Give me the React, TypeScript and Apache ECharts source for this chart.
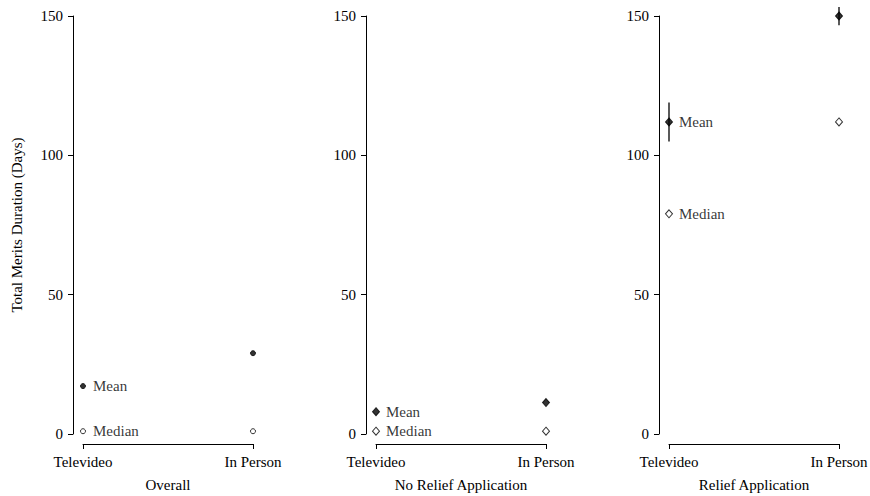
import React, { useEffect, useRef } from "react";
import * as echarts from "echarts";

// Categories and panel titles
const groups = ["Televideo", "In Person"];
const panelTitles = ["Overall", "No Relief Application", "Relief Application"];
const yTicks = [0, 50, 100, 150];

// Total merits duration in days
const overallMean = [17.2, 29.0];
const overallMedian = [1, 1];
const noReliefMean = [8.0, 11.3];
const noReliefMedian = [1, 1];
const reliefMean = [112, 150];
const reliefMedian = [79, 112];
const reliefMeanLow = [105, 146.7];
const reliefMeanHigh = [119, 153.2];

const FONT = "'Liberation Serif', 'Times New Roman', serif";
const FS = 15;

export default function App() {
  const ref = useRef<HTMLDivElement>(null);

  useEffect(() => {
    if (!ref.current) return;
    const chart = echarts.init(ref.current, null, { renderer: "svg" });

    const panels = [
      { mean: overallMean, median: overallMedian, symbol: "circle", size: [5, 5], gap: 7, err: null as null | { lo: number[]; hi: number[] } },
      { mean: noReliefMean, median: noReliefMedian, symbol: "diamond", size: [7, 8], gap: 6, err: null },
      { mean: reliefMean, median: reliefMedian, symbol: "diamond", size: [7, 8], gap: 6, err: { lo: reliefMeanLow, hi: reliefMeanHigh } },
    ];
    const gridLefts = [83, 376, 669];

    const grid = gridLefts.map((left) => ({
      left,
      top: 16,
      width: 170,
      height: 418,
      outerBoundsMode: "none",
      containLabel: false,
    }));

    const xAxis = panels.map((_, i) => ({
      type: "category",
      gridIndex: i,
      data: groups,
      boundaryGap: false,
      position: "bottom",
      offset: 10,
      name: panelTitles[i],
      nameLocation: "middle",
      nameGap: 33,
      nameTextStyle: { fontFamily: FONT, fontSize: FS, color: "#000" },
      axisLine: { show: true, onZero: false, lineStyle: { color: "#000", width: 1 } },
      axisTick: { show: true, length: 5, alignWithLabel: true, lineStyle: { color: "#000" } },
      axisLabel: { fontFamily: FONT, fontSize: FS, color: "#000", margin: 10, interval: 0 },
      splitLine: { show: false },
    }));

    const yAxis = panels.map((_, i) => ({
      type: "value",
      gridIndex: i,
      min: yTicks[0],
      max: yTicks[yTicks.length - 1],
      interval: yTicks[1] - yTicks[0],
      position: "left",
      offset: 10,
      name: i === 0 ? "Total Merits Duration (Days)" : "",
      nameLocation: "middle",
      nameGap: 49,
      nameTextStyle: { fontFamily: FONT, fontSize: FS, color: "#000" },
      axisLine: { show: true, onZero: false, lineStyle: { color: "#000", width: 1 } },
      axisTick: { show: true, length: 5, lineStyle: { color: "#000" } },
      axisLabel: { fontFamily: FONT, fontSize: FS, color: "#000", margin: 10 },
      splitLine: { show: false },
    }));

    const labelFor = (text: string, gap: number) => ({
      show: true,
      position: "right",
      distance: gap,
      formatter: text,
      fontFamily: FONT,
      fontSize: FS,
      color: "#000",
    });

    const series: any[] = [];
    panels.forEach((p, i) => {
      if (p.err) {
        const lo = p.err.lo;
        const hi = p.err.hi;
        series.push({
          type: "custom",
          xAxisIndex: i,
          yAxisIndex: i,
          clip: false,
          silent: true,
          data: groups.map((g, k) => [k, lo[k], hi[k]]),
          renderItem: (_params: any, api: any) => {
            const a = api.coord([api.value(0), api.value(1)]);
            const b = api.coord([api.value(0), api.value(2)]);
            return {
              type: "line",
              shape: { x1: a[0], y1: a[1], x2: b[0], y2: b[1] },
              style: { stroke: "#000", lineWidth: 1.3 },
            };
          },
        });
      }
      series.push({
        type: "scatter",
        xAxisIndex: i,
        yAxisIndex: i,
        clip: false,
        symbol: p.symbol,
        symbolSize: p.size,
        itemStyle: { color: "#000", borderColor: "#000", borderWidth: 1 },
        data: p.mean.map((v, k) =>
          k === 0 ? { value: [k, v], label: labelFor("Mean", p.gap) } : { value: [k, v] }
        ),
      });
      series.push({
        type: "scatter",
        xAxisIndex: i,
        yAxisIndex: i,
        clip: false,
        symbol: p.symbol,
        symbolSize: p.size,
        itemStyle: { color: "#fff", borderColor: "#000", borderWidth: 1 },
        data: p.median.map((v, k) =>
          k === 0 ? { value: [k, v], label: labelFor("Median", p.gap) } : { value: [k, v] }
        ),
      });
    });

    chart.setOption({
      animation: false,
      backgroundColor: "#fff",
      textStyle: { fontFamily: FONT },
      grid,
      xAxis,
      yAxis,
      series,
    });

    return () => chart.dispose();
  }, []);

  return (
    <div
      ref={ref}
      style={{ position: "fixed", left: 0, top: 0, width: 870, height: 496 }}
    />
  );
}
